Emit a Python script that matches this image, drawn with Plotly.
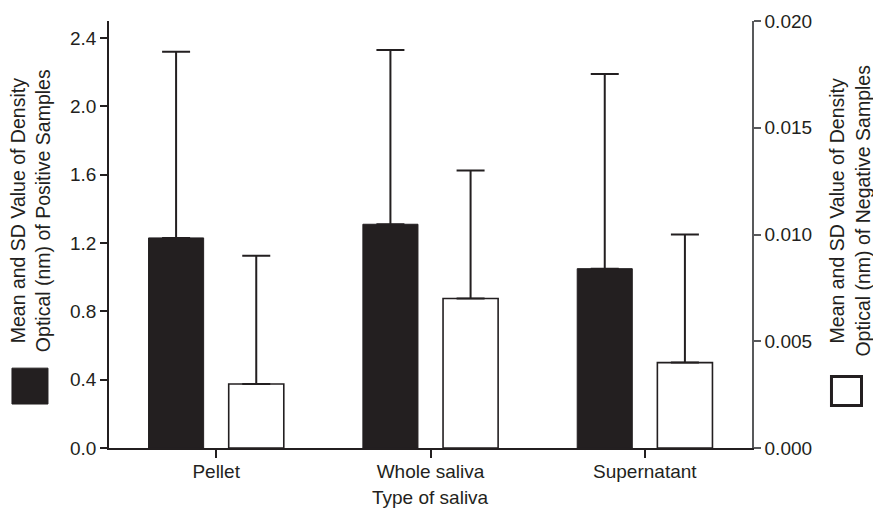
import plotly.graph_objects as go

# Saliva fractions and the optical density readings (mean and SD)
categories = ["Pellet", "Whole saliva", "Supernatant"]
positive_mean = [1.23, 1.31, 1.05]
positive_sd = [1.09, 1.02, 1.14]
negative_mean = [0.0030, 0.0070, 0.0040]
negative_sd = [0.0060, 0.0060, 0.0060]

left_ticks = [0.0, 0.4, 0.8, 1.2, 1.6, 2.0, 2.4]
right_ticks = [0.000, 0.005, 0.010, 0.015, 0.020]

INK = "#231f20"
GREY = "#58595b"
FONT = "Liberation Sans, Arial, Helvetica, sans-serif"
FS = 19

bar_w = 0.257
gap = 0.187

fig = go.Figure()

fig.add_trace(go.Bar(
    x=categories, y=positive_mean, yaxis="y",
    width=bar_w, offset=-gap - bar_w / 2,
    marker=dict(color=INK, line=dict(color=INK, width=1)),
    error_y=dict(type="data", symmetric=False, array=positive_sd,
                 arrayminus=[0] * len(positive_sd),
                 color=INK, thickness=2, width=14),
    showlegend=False,
))

fig.add_trace(go.Bar(
    x=categories, y=negative_mean, yaxis="y2",
    width=bar_w, offset=gap - bar_w / 2,
    marker=dict(color="white", line=dict(color=INK, width=1.6)),
    error_y=dict(type="data", symmetric=False, array=negative_sd,
                 arrayminus=[0] * len(negative_sd),
                 color=INK, thickness=2, width=14),
    showlegend=False,
))

fig.update_layout(
    width=873, height=511,
    margin=dict(l=109, r=121, t=21, b=63),
    paper_bgcolor="white", plot_bgcolor="white",
    barmode="overlay",
    font=dict(family=FONT, size=FS, color=INK),
    xaxis=dict(
        range=[-0.5, 2.5], showline=True, linecolor=INK, linewidth=1.5,
        ticks="outside", ticklen=8, tickwidth=1.5, tickcolor=INK,
        ticklabelstandoff=-3,
        showgrid=False, zeroline=False,
        tickfont=dict(family=FONT, size=FS, color=INK),
    ),
    yaxis=dict(
        range=[0, 2.5], tickvals=left_ticks,
        ticktext=[f"{v:.1f}" for v in left_ticks],
        showline=True, linecolor=INK, linewidth=1.5,
        ticks="outside", ticklen=7, tickwidth=1.5, tickcolor=INK,
        showgrid=False, zeroline=False,
        tickfont=dict(family=FONT, size=FS, color=INK),
    ),
    yaxis2=dict(
        range=[0, 0.020], tickvals=right_ticks,
        ticktext=[f"{v:.3f}" for v in right_ticks],
        overlaying="y", side="right",
        showline=True, linecolor=GREY, linewidth=1.5,
        ticks="outside", ticklen=7, tickwidth=1.5, tickcolor=GREY,
        showgrid=False, zeroline=False,
        tickfont=dict(family=FONT, size=FS, color=INK),
    ),
)

# Axis titles
fig.add_annotation(
    text="Mean and SD Value of Density<br>Optical (nm) of Positive Samples",
    xref="paper", yref="paper", x=-0.1229, y=0.557,
    xanchor="center", yanchor="middle", textangle=-90, showarrow=False,
    font=dict(family=FONT, size=19.5, color=INK),
)
fig.add_annotation(
    text="Mean and SD Value of Density<br>Optical (nm) of Negative Samples",
    xref="paper", yref="paper", x=1.1524, y=0.556,
    xanchor="center", yanchor="middle", textangle=-90, showarrow=False,
    font=dict(family=FONT, size=19.5, color=INK),
)
fig.add_annotation(
    text="Type of saliva",
    xref="paper", yref="paper", x=0.5, y=-0.115,
    xanchor="center", yanchor="middle", showarrow=False,
    font=dict(family=FONT, size=FS, color=INK),
)

# Key swatches beside each axis title
fig.add_shape(type="rect", xref="paper", yref="paper",
              x0=-0.1509, x1=-0.0949, y0=0.103, y1=0.187,
              fillcolor=INK, line=dict(color=INK, width=1))
fig.add_shape(type="rect", xref="paper", yref="paper",
              x0=1.1236, x1=1.1703, y0=0.0995, y1=0.1675,
              fillcolor="white", line=dict(color=INK, width=3))

fig.write_html("out.html")
